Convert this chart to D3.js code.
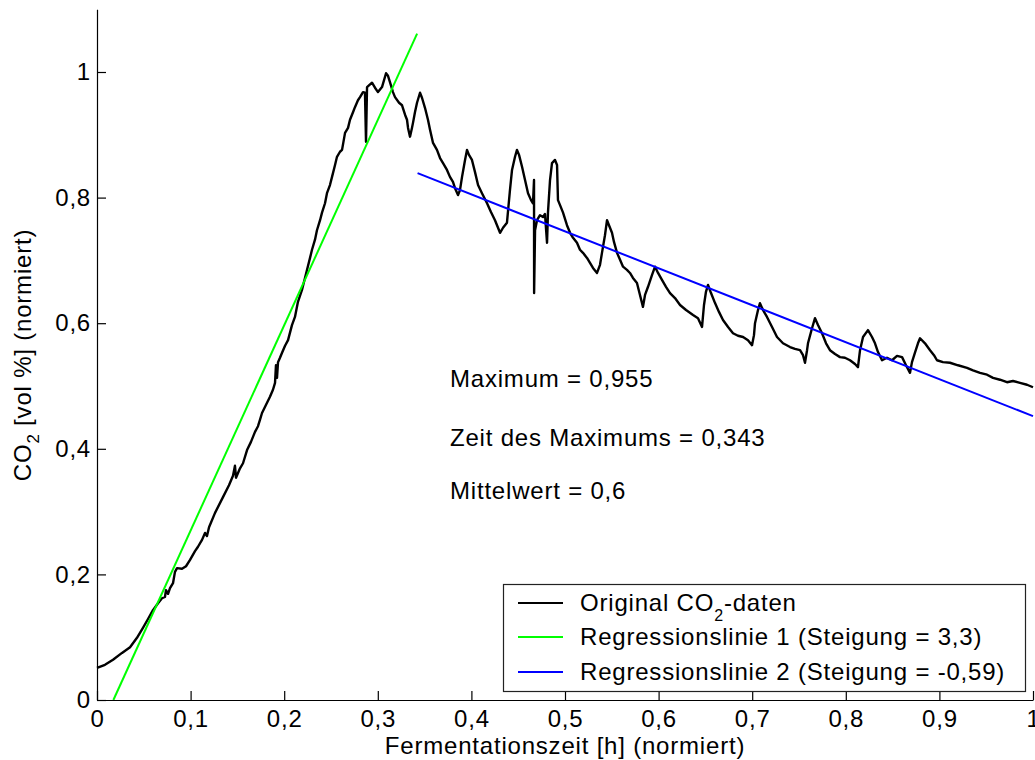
<!DOCTYPE html>
<html><head><meta charset="utf-8">
<script src="https://cdn.jsdelivr.net/npm/d3@7"></script>
<style>
body{margin:0;background:#fff}
text{font-family:"Liberation Sans",Arial,sans-serif;fill:#000}
</style>
</head><body>
<svg id="c" width="1035" height="760"></svg>
<script>
// ---- data ----
const timeValues = [0,0.0085,0.0171,0.0267,0.0353,0.0427,0.0491,0.0545,0.0598,0.0652,0.0694,0.0726,0.0737,0.0759,0.0780,0.0812,0.0833,0.0855,0.0908,0.0951,0.0994,0.1047,0.1079,0.1122,0.1154,0.1175,0.1197,0.1261,0.1346,0.1410,0.1453,0.1474,0.1485,0.1528,0.1560,0.1603,0.1645,0.1688,0.1720,0.1741,0.1763,0.1806,0.1848,0.1880,0.1902,0.1912,0.1923,0.1934,0.1955,0.1977,0.2009,0.2041,0.2083,0.2115,0.2147,0.2190,0.2222,0.2244,0.2276,0.2297,0.2329,0.2350,0.2383,0.2404,0.2436,0.2457,0.2489,0.2511,0.2543,0.2564,0.2596,0.2618,0.2650,0.2682,0.2703,0.2735,0.2756,0.2788,0.2810,0.2842,0.2863,0.2874,0.2885,0.2938,0.2970,0.3002,0.3045,0.3088,0.3109,0.3130,0.3162,0.3184,0.3227,0.3259,0.3291,0.3312,0.3323,0.3344,0.3365,0.3376,0.3397,0.3419,0.3451,0.3472,0.3504,0.3536,0.3558,0.3590,0.3632,0.3665,0.3697,0.3739,0.3771,0.3803,0.3825,0.3857,0.3878,0.3900,0.3932,0.3953,0.3974,0.4006,0.4038,0.4071,0.4113,0.4167,0.4209,0.4252,0.4306,0.4338,0.4380,0.4412,0.4434,0.4466,0.4487,0.4509,0.4541,0.4573,0.4605,0.4637,0.4658,0.4669,0.4670,0.4680,0.4701,0.4733,0.4765,0.4786,0.4808,0.4818,0.4840,0.4861,0.4893,0.4915,0.4925,0.4947,0.4979,0.5021,0.5054,0.5086,0.5128,0.5160,0.5192,0.5235,0.5267,0.5299,0.5342,0.5374,0.5395,0.5427,0.5449,0.5470,0.5502,0.5524,0.5556,0.5588,0.5620,0.5662,0.5694,0.5726,0.5769,0.5801,0.5833,0.5855,0.5887,0.5930,0.5962,0.5994,0.6036,0.6079,0.6122,0.6175,0.6229,0.6293,0.6368,0.6421,0.6464,0.6485,0.6506,0.6528,0.6560,0.6603,0.6645,0.6688,0.6742,0.6795,0.6848,0.6902,0.6955,0.6998,0.7019,0.7030,0.7062,0.7083,0.7115,0.7158,0.7212,0.7265,0.7329,0.7404,0.7457,0.7511,0.7543,0.7564,0.7586,0.7596,0.7639,0.7671,0.7703,0.7746,0.7789,0.7831,0.7885,0.7938,0.7991,0.8045,0.8098,0.8130,0.8152,0.8184,0.8237,0.8280,0.8312,0.8344,0.8387,0.8440,0.8494,0.8547,0.8601,0.8643,0.8686,0.8707,0.8739,0.8771,0.8793,0.8846,0.8900,0.8942,0.8974,0.9038,0.9113,0.9199,0.9295,0.9359,0.9434,0.9509,0.9573,0.9647,0.9722,0.9786,0.9861,0.9936,1.0];
const co2Values = [0.051,0.056,0.064,0.075,0.084,0.099,0.115,0.129,0.143,0.154,0.162,0.164,0.175,0.169,0.178,0.186,0.204,0.210,0.209,0.213,0.223,0.237,0.244,0.255,0.266,0.261,0.275,0.298,0.323,0.342,0.357,0.373,0.354,0.369,0.377,0.398,0.411,0.427,0.436,0.446,0.457,0.470,0.483,0.494,0.505,0.533,0.513,0.538,0.545,0.553,0.564,0.573,0.597,0.610,0.634,0.653,0.672,0.685,0.704,0.717,0.733,0.748,0.764,0.776,0.791,0.807,0.820,0.833,0.852,0.865,0.873,0.876,0.903,0.911,0.924,0.936,0.944,0.955,0.960,0.968,0.967,0.889,0.976,0.983,0.975,0.968,0.976,0.998,0.994,0.984,0.968,0.960,0.951,0.947,0.932,0.924,0.911,0.897,0.911,0.919,0.936,0.951,0.967,0.959,0.943,0.924,0.908,0.887,0.876,0.863,0.855,0.844,0.833,0.825,0.815,0.804,0.812,0.833,0.860,0.876,0.868,0.860,0.841,0.820,0.807,0.791,0.777,0.764,0.744,0.752,0.760,0.812,0.844,0.865,0.876,0.868,0.849,0.828,0.807,0.796,0.791,0.828,0.648,0.748,0.764,0.772,0.769,0.774,0.728,0.776,0.828,0.855,0.860,0.852,0.796,0.788,0.776,0.756,0.744,0.736,0.728,0.717,0.712,0.704,0.696,0.688,0.680,0.693,0.712,0.740,0.764,0.756,0.744,0.729,0.712,0.701,0.690,0.685,0.680,0.672,0.664,0.645,0.626,0.645,0.658,0.677,0.690,0.680,0.669,0.658,0.648,0.640,0.629,0.621,0.613,0.608,0.594,0.629,0.650,0.661,0.648,0.632,0.618,0.605,0.594,0.584,0.580,0.578,0.573,0.565,0.581,0.600,0.621,0.632,0.621,0.610,0.594,0.578,0.568,0.562,0.559,0.557,0.549,0.537,0.557,0.568,0.592,0.608,0.597,0.584,0.568,0.557,0.551,0.546,0.545,0.541,0.535,0.530,0.557,0.578,0.589,0.578,0.568,0.554,0.541,0.545,0.541,0.548,0.546,0.533,0.521,0.538,0.553,0.568,0.576,0.568,0.557,0.549,0.541,0.538,0.537,0.533,0.529,0.525,0.521,0.518,0.513,0.510,0.506,0.508,0.505,0.502,0.498];

const reg1X = [0.0175, 0.342];
const reg1Y = [0, 1.061];
const reg2X = [0.3425, 1.0];
const reg2Y = [0.839, 0.452];

const xTicks = [0,0.1,0.2,0.3,0.4,0.5,0.6,0.7,0.8,0.9,1];
const xTickLabels = ["0","0,1","0,2","0,3","0,4","0,5","0,6","0,7","0,8","0,9","1"];
const yTicks = [0,0.2,0.4,0.6,0.8,1];
const yTickLabels = ["0","0,2","0,4","0,6","0,8","1"];

const legendLabels = ["Original CO", "Regressionslinie 1 (Steigung = 3,3)", "Regressionslinie 2 (Steigung = -0,59)"];
const legendColors = ["#000000", "#00ff00", "#0000ff"];
const annotations = ["Maximum = 0,955", "Zeit des Maximums = 0,343", "Mittelwert = 0,6"];

// ---- drawing ----
const FS = 24, LS = "0.8px";
const svg = d3.select("#c");
svg.append("rect").attr("width",1035).attr("height",760).attr("fill","#fff");

const x = d3.scaleLinear().domain([0,1]).range([97,1033]);
const y = d3.scaleLinear().domain([0,1.1]).range([700,9.2]);

const seg = d3.line().x(d=>x(d[0])).y(d=>y(d[1]));
const data = timeValues.map((t,i)=>[t,co2Values[i]]);
svg.append("path").attr("d", seg(data)).attr("fill","none")
  .attr("stroke","#000").attr("stroke-width",2.4).attr("stroke-linejoin","round");
svg.append("path").attr("d", seg(d3.zip(reg1X,reg1Y))).attr("stroke","#00ff00").attr("stroke-width",2).attr("fill","none");
svg.append("path").attr("d", seg(d3.zip(reg2X,reg2Y))).attr("stroke","#0000ff").attr("stroke-width",2).attr("fill","none");

// axes
const xAxis = d3.axisBottom(x).tickValues(xTicks).tickFormat((d,i)=>xTickLabels[i])
  .tickSizeInner(-9).tickSizeOuter(0).tickPadding(10);
const gx = svg.append("g").attr("transform","translate(0,700)").call(xAxis);
const yAxis = d3.axisLeft(y).tickValues(yTicks).tickFormat((d,i)=>yTickLabels[i])
  .tickSizeInner(-9).tickSizeOuter(0).tickPadding(6);
const gy = svg.append("g").attr("transform","translate(97,0)").call(yAxis);
[gx,gy].forEach(g=>{
  g.select(".domain").attr("stroke","#000").attr("stroke-width",1.2);
  g.selectAll(".tick line").attr("stroke","#000").attr("stroke-width",1.2);
  g.selectAll(".tick text").attr("font-size",FS).attr("font-family",null).style("letter-spacing",LS).attr("fill","#000");
});

// axis labels
svg.append("text").attr("x",565).attr("y",754).attr("text-anchor","middle")
  .attr("font-size",FS).style("letter-spacing",LS).text("Fermentationszeit [h] (normiert)");
const yl = svg.append("text").attr("transform","translate(31,355) rotate(-90)")
  .attr("text-anchor","middle").attr("font-size",FS).style("letter-spacing",LS);
yl.append("tspan").text("CO");
yl.append("tspan").attr("font-size",17).attr("dy",8).text("2");
yl.append("tspan").attr("dy",-8).text(" [vol %] (normiert)");

// annotations
const annY = [387, 446, 499];
annotations.forEach((a,i)=>{
  svg.append("text").attr("x",450).attr("y",annY[i]).attr("font-size",FS).style("letter-spacing",LS).text(a);
});

// legend
const lg = svg.append("g");
lg.append("rect").attr("x",503.5).attr("y",584.5).attr("width",522).attr("height",107)
  .attr("fill","#fff").attr("stroke","#222").attr("stroke-width",1.2);
const rowY = [603, 637, 672];
legendLabels.forEach((lab,i)=>{
  lg.append("line").attr("x1",518).attr("x2",563).attr("y1",rowY[i]).attr("y2",rowY[i])
    .attr("stroke",legendColors[i]).attr("stroke-width",2);
  const t = lg.append("text").attr("x",580).attr("y",rowY[i]+8).attr("font-size",FS).style("letter-spacing",LS);
  t.append("tspan").text(lab);
  if(i===0){
    t.append("tspan").attr("font-size",16).attr("dy",10).text("2");
    t.append("tspan").attr("dy",-10).text("-daten");
  }
});
</script>
</body></html>
